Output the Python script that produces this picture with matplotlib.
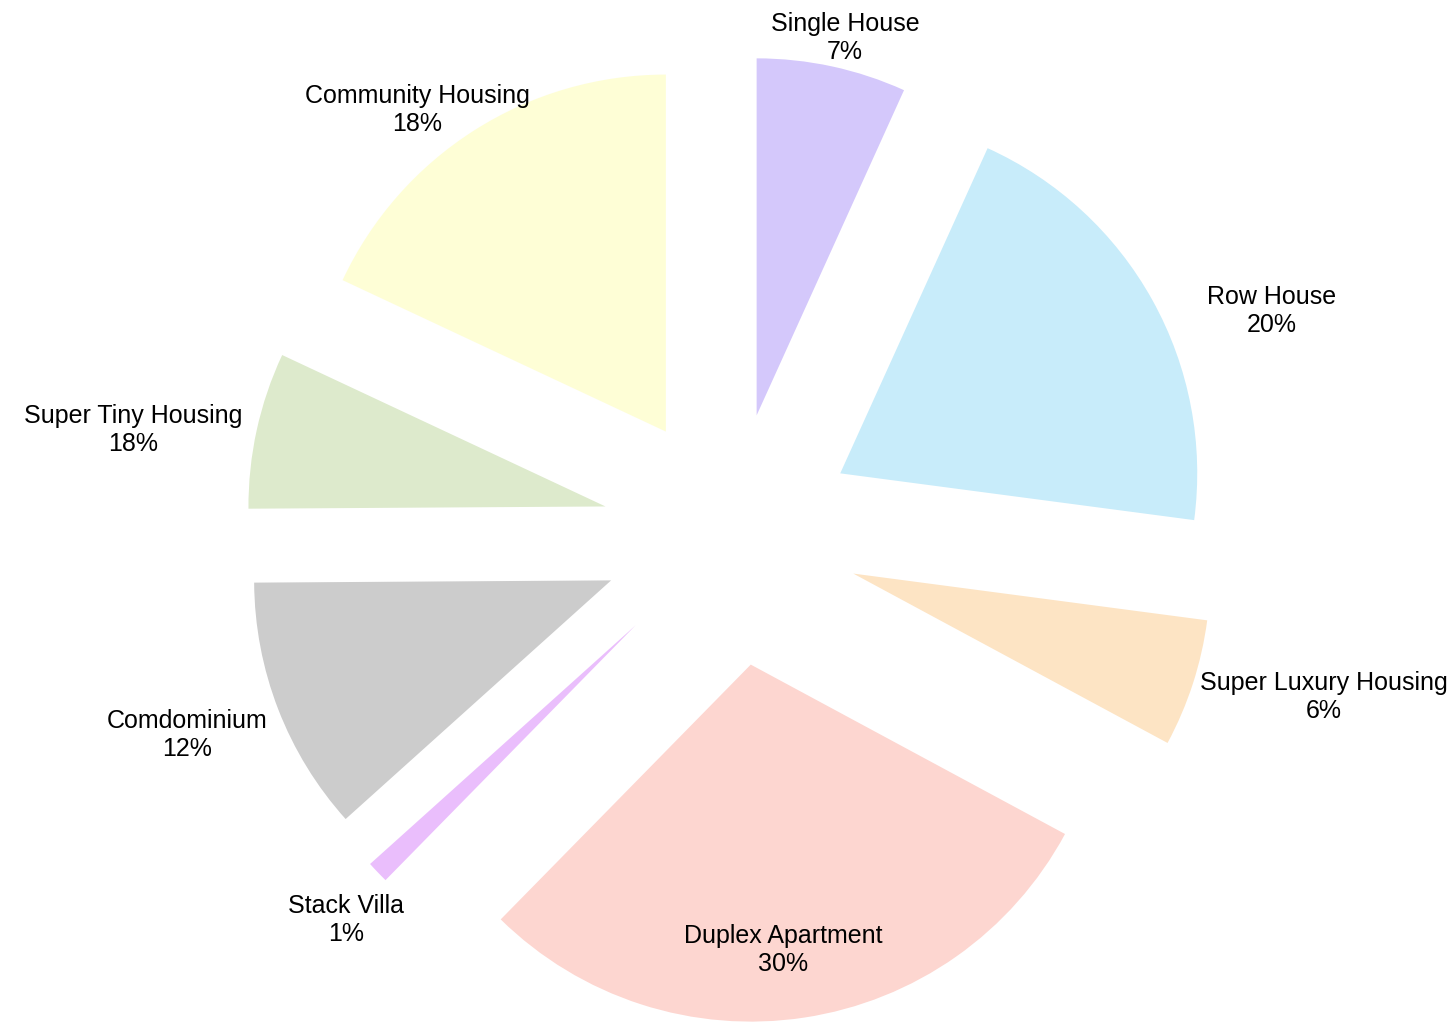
import matplotlib.pyplot as plt

plt.rcParams['font.family'] = ['Liberation Sans', 'DejaVu Sans']

categories = ['Single House', 'Row House', 'Super Luxury Housing', 'Duplex Apartment',
              'Stack Villa', 'Comdominium', 'Super Tiny Housing', 'Community Housing']
values = [6.8, 20.4, 5.8, 29.6, 1.0, 11.6, 7.1, 18.1]
pct_labels = ['7%', '20%', '6%', '30%', '1%', '12%', '18%', '18%']

colors = ['#d4c8fb', '#c8ecfa', '#fde4c4', '#fdd6d0', '#eabefc', '#cccccc', '#ddeacc', '#fefed6']
explode = [0.34, 0.35, 0.36, 0.37, 0.37, 0.36, 0.36, 0.34]

# label anchor positions in pixels (x, y from top)
label_pos = [(845, 38), (1272, 311), (1324, 697), (783, 950),
             (346, 920), (187, 735), (133, 430), (417, 110)]

W, H = 1453, 1030
fig = plt.figure(figsize=(W / 100, H / 100), dpi=100)
ax = fig.add_axes([0, 0, 1, 1])

cx, cy, R = 731, H - 534, 357
# pie's explode offset is not scaled by radius, so scale it here
ax.pie(values, colors=colors, explode=[e * R for e in explode], startangle=90,
       counterclock=False, center=(cx, cy), radius=R, frame=True,
       wedgeprops=dict(linewidth=0))

for cat, pct, (x, y) in zip(categories, pct_labels, label_pos):
    ax.text(x, H - y, cat + '\n' + pct, ha='center', va='center', fontsize=18,
            color='black', linespacing=1.2)

ax.set_xlim(0, W)
ax.set_ylim(0, H)
ax.set_aspect('equal')
ax.axis('off')

fig.savefig('out.png', dpi=100)
